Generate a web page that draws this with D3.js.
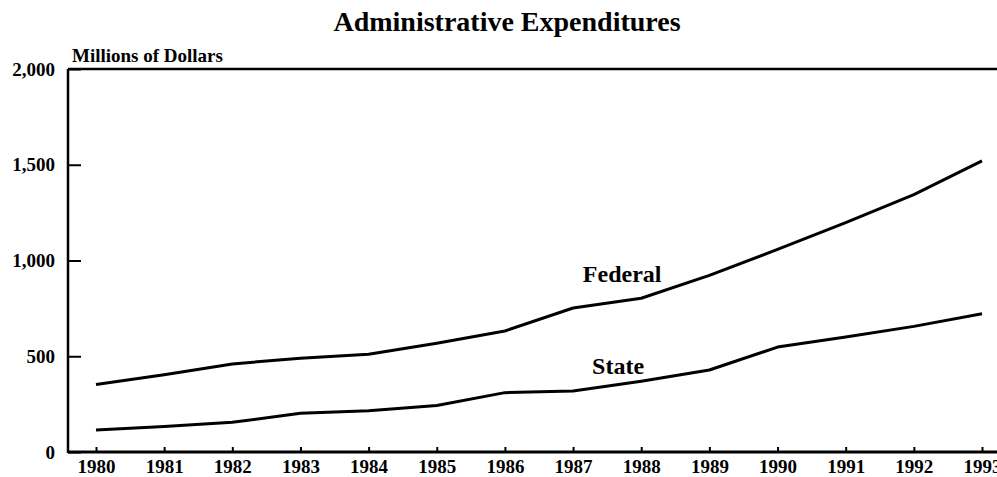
<!DOCTYPE html>
<html>
<head>
<meta charset="utf-8">
<script src="https://cdn.jsdelivr.net/npm/d3@7"></script>
<style>
  body { margin: 0; background: #fff; }
  svg { display: block; }
  text { font-family: "Liberation Serif", "Times New Roman", serif; font-weight: bold; fill: #000; }
</style>
</head>
<body>
<div id="chart"></div>
<script>
// data (millions of dollars)
const years = [1980, 1981, 1982, 1983, 1984, 1985, 1986, 1987, 1988, 1989, 1990, 1991, 1992, 1993];
const federal = [352, 403, 460, 490, 510, 568, 632, 752, 803, 922, 1058, 1198, 1344, 1520];
const state = [115, 133, 155, 202, 216, 243, 310, 318, 370, 428, 548, 600, 656, 722];
const yTicks = [0, 500, 1000, 1500, 2000];
const seriesNames = ["Federal", "State"];
// where the in-chart labels sit, in data units
const labelAt = [[1987.72, 889], [1987.66, 407]];

const W = 997, H = 477;
const plotLeft = 68, plotTop = 69, plotBottom = 452;

const svg = d3.select("#chart")
    .append("svg")
    .attr("width", W)
    .attr("height", H);

const x = d3.scaleLinear()
    .domain([1980, 1993])
    .range([96, 982]);

const y = d3.scaleLinear()
    .domain([0, 2000])
    .range([plotBottom, plotTop]);

// title
svg.append("text")
    .attr("x", 507)
    .attr("y", 31)
    .attr("text-anchor", "middle")
    .style("font-size", "28px")
    .text("Administrative Expenditures");

// units label
svg.append("text")
    .attr("x", 72)
    .attr("y", 62)
    .style("font-size", "19px")
    .text("Millions of Dollars");

// x axis, ticks pointing up
const xAxis = svg.append("g")
    .attr("transform", `translate(0,${plotBottom})`)
    .call(d3.axisBottom(x).tickValues(years).tickFormat(d3.format("d")).tickSize(-5).tickPadding(8));
xAxis.select(".domain").remove();
xAxis.selectAll("line").attr("stroke-width", 2);
xAxis.selectAll("text").style("font-size", "19px").attr("font-family", null);

// y axis, ticks pointing in
const yAxis = svg.append("g")
    .attr("transform", `translate(${plotLeft},0)`)
    .call(d3.axisLeft(y).tickValues(yTicks).tickFormat(d3.format(",")).tickSize(-13).tickPadding(13));
yAxis.select(".domain").remove();
yAxis.selectAll("line").attr("stroke-width", 2);
yAxis.selectAll("text").style("font-size", "19px").attr("font-family", null);

// frame: left, top, bottom
svg.append("line")
    .attr("x1", plotLeft).attr("x2", plotLeft)
    .attr("y1", plotTop).attr("y2", plotBottom + 1)
    .attr("stroke", "#000").attr("stroke-width", 2.5);
svg.append("line")
    .attr("x1", plotLeft).attr("x2", W)
    .attr("y1", plotTop).attr("y2", plotTop)
    .attr("stroke", "#000").attr("stroke-width", 2.5);
svg.append("line")
    .attr("x1", plotLeft).attr("x2", W)
    .attr("y1", plotBottom).attr("y2", plotBottom)
    .attr("stroke", "#000").attr("stroke-width", 3);

// lines
const line = d3.line()
    .x((d, i) => x(years[i]))
    .y(d => y(d));

svg.selectAll(".series")
    .data([federal, state])
    .join("path")
    .attr("class", "series")
    .attr("fill", "none")
    .attr("stroke", "#000")
    .attr("stroke-width", 3)
    .attr("stroke-linejoin", "round")
    .attr("d", line);

// series labels
svg.selectAll(".lbl")
    .data(seriesNames)
    .join("text")
    .attr("class", "lbl")
    .attr("x", (d, i) => x(labelAt[i][0]))
    .attr("y", (d, i) => y(labelAt[i][1]))
    .attr("text-anchor", "middle")
    .style("font-size", "24px")
    .text(d => d);
</script>
</body>
</html>
